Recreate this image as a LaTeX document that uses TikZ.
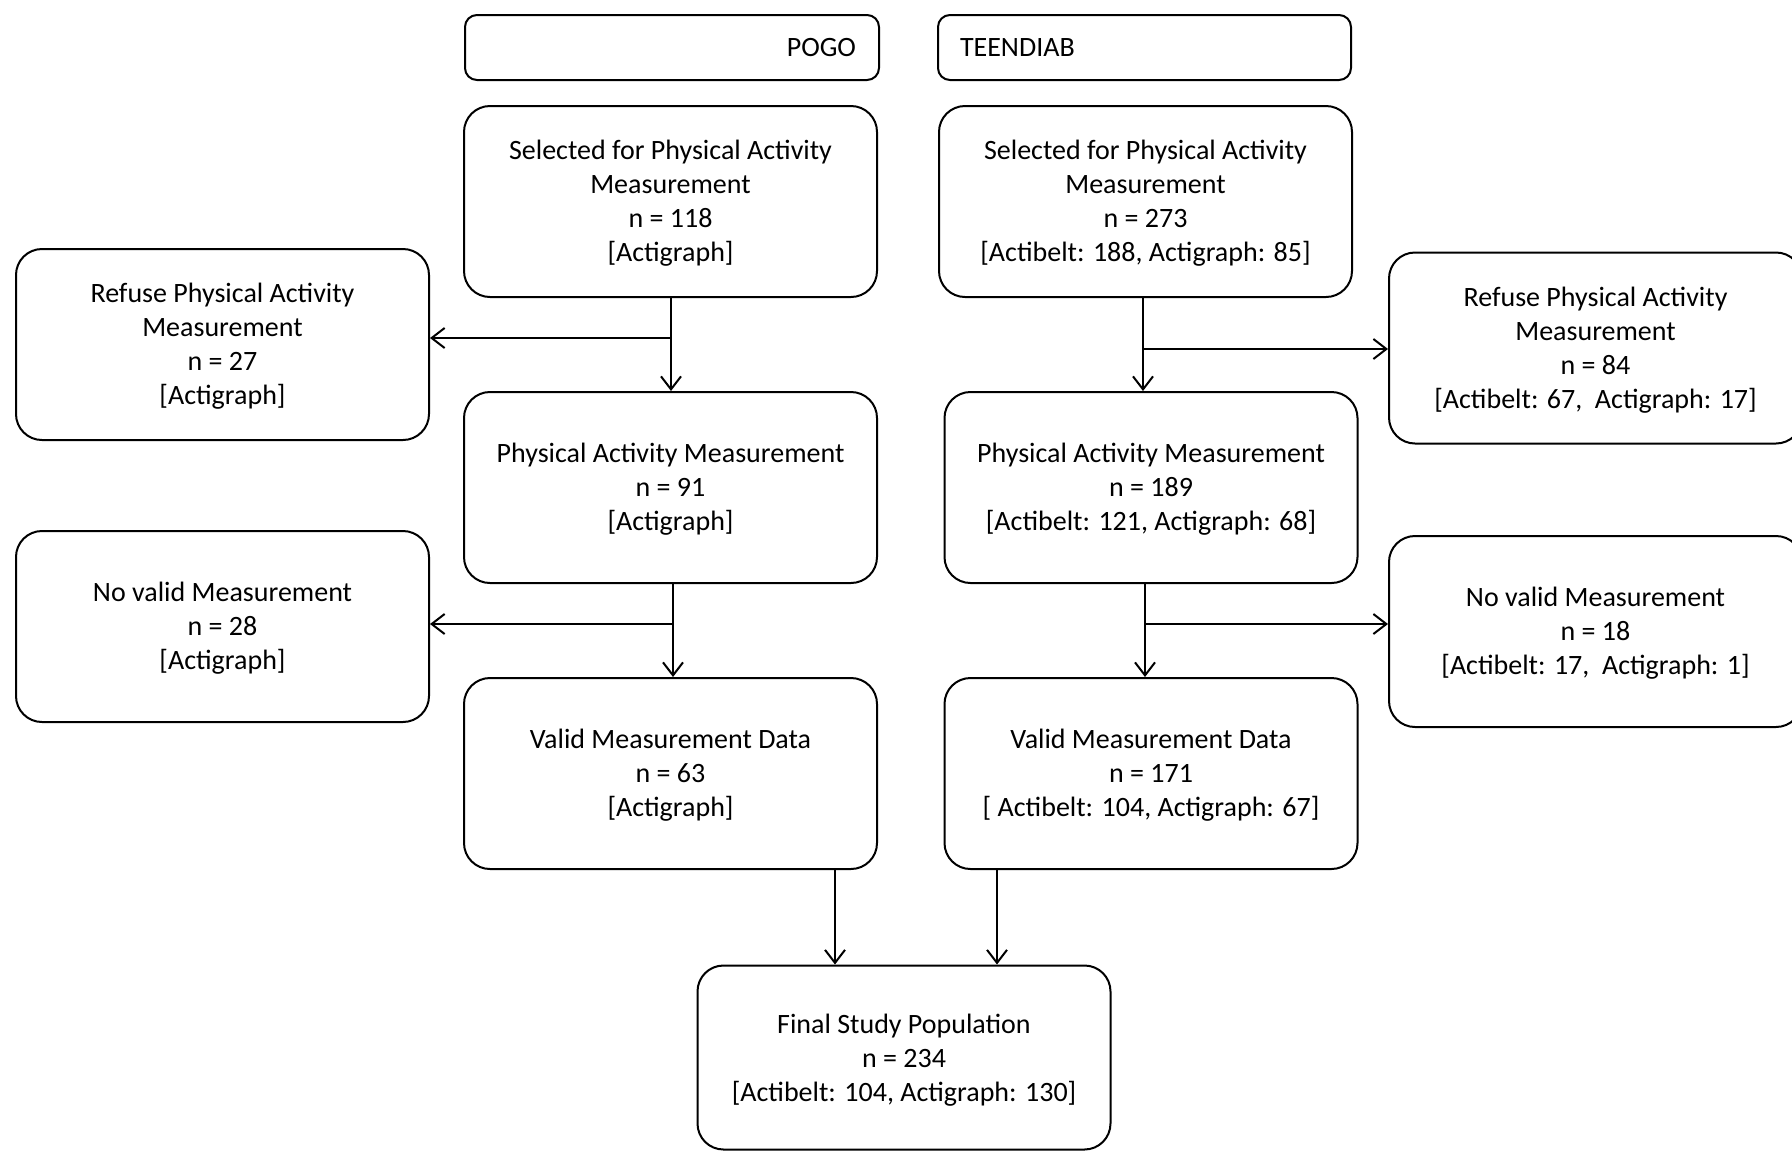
\documentclass[tikz,border=0pt]{standalone}
\usepackage{fontspec}
\setmainfont{Carlito}
\usetikzlibrary{arrows.meta}
\begin{document}
\begin{tikzpicture}[x=0.5pt,y=-0.5pt,
  box/.style={draw,line width=1pt,rounded corners=13pt,minimum width=206.5pt,minimum height=95.5pt,
    align=center,font=\fontsize{14}{17}\selectfont,inner sep=0pt,text depth=0.3pt},
  head/.style={draw,line width=1pt,rounded corners=6pt,minimum height=32.5pt,
    font=\fontsize{14}{17}\selectfont,inner ysep=0pt},
  arr/.style={line width=1pt,-{Straight Barb[length=6.5pt,width=10pt,line width=1pt]}}]
\useasboundingbox (0,0) rectangle (1792,1152);
% headers
\node[head,inner xsep=11.5pt,text width=184pt,align=right] (hA) at (672,47.5) {POGO};
\node[head,inner xsep=11pt,text width=184.5pt,align=left] (hB) at (1144.5,47.5) {TEENDIAB};
% POGO column
\node[box] (A1) at (670.5,201.5) {Selected for Physical Activity\\Measurement\\n = 118\\{[Actigraph]}};
\node[box] (A2) at (670.5,487.5) {Physical Activity Measurement\\n = 91\\{[Actigraph]}};
\node[box] (A3) at (670.5,773.5) {Valid Measurement Data\\n = 63\\{[Actigraph]}};
\node[box] (RL) at (222.5,344.5) {Refuse Physical Activity\\Measurement\\n = 27\\{[Actigraph]}};
\node[box] (NL) at (222.5,626.5) {No valid Measurement\\n = 28\\{[Actigraph]}};
% TEENDIAB column
\node[box] (B1) at (1145.5,201.5) {Selected for Physical Activity\\Measurement\\n = 273\\{[Actibelt: 188, Actigraph: 85]}};
\node[box] (B2) at (1151,487.5) {Physical Activity Measurement\\n = 189\\{[Actibelt: 121, Actigraph: 68]}};
\node[box] (B3) at (1151,773.5) {Valid Measurement Data\\n = 171\\{[ Actibelt: 104, Actigraph: 67]}};
\node[box] (RR) at (1595.5,348) {Refuse Physical Activity\\Measurement\\n = 84\\{[Actibelt: 67,\ \ Actigraph: 17]}};
\node[box] (NR) at (1595.5,631.5) {No valid Measurement\\n = 18\\{[Actibelt: 17,\ \ Actigraph: 1]}};
% final
\node[box,minimum height=92pt,text depth=-1.8pt] (F) at (904,1057.5) {Final Study Population\\n = 234\\{[Actibelt: 104, Actigraph: 130]}};
% connectors
\coordinate (jA1) at (671,338);
\coordinate (jA2) at (673,624);
\coordinate (jB1) at (1143,349);
\coordinate (jB2) at (1145,624);
\coordinate (pA) at (835,0);
\coordinate (pB) at (997,0);
\draw[arr] (A1.south -| jA1) -- (A2.north -| jA1);
\draw[arr] (jA1) -- (RL.east |- jA1);
\draw[arr] (A2.south -| jA2) -- (A3.north -| jA2);
\draw[arr] (jA2) -- (NL.east |- jA2);
\draw[arr] (B1.south -| jB1) -- (B2.north -| jB1);
\draw[arr] (jB1) -- (RR.west |- jB1);
\draw[arr] (B2.south -| jB2) -- (B3.north -| jB2);
\draw[arr] (jB2) -- (NR.west |- jB2);
\draw[arr] (A3.south -| pA) -- (F.north -| pA);
\draw[arr] (B3.south -| pB) -- (F.north -| pB);
\end{tikzpicture}
\end{document}
